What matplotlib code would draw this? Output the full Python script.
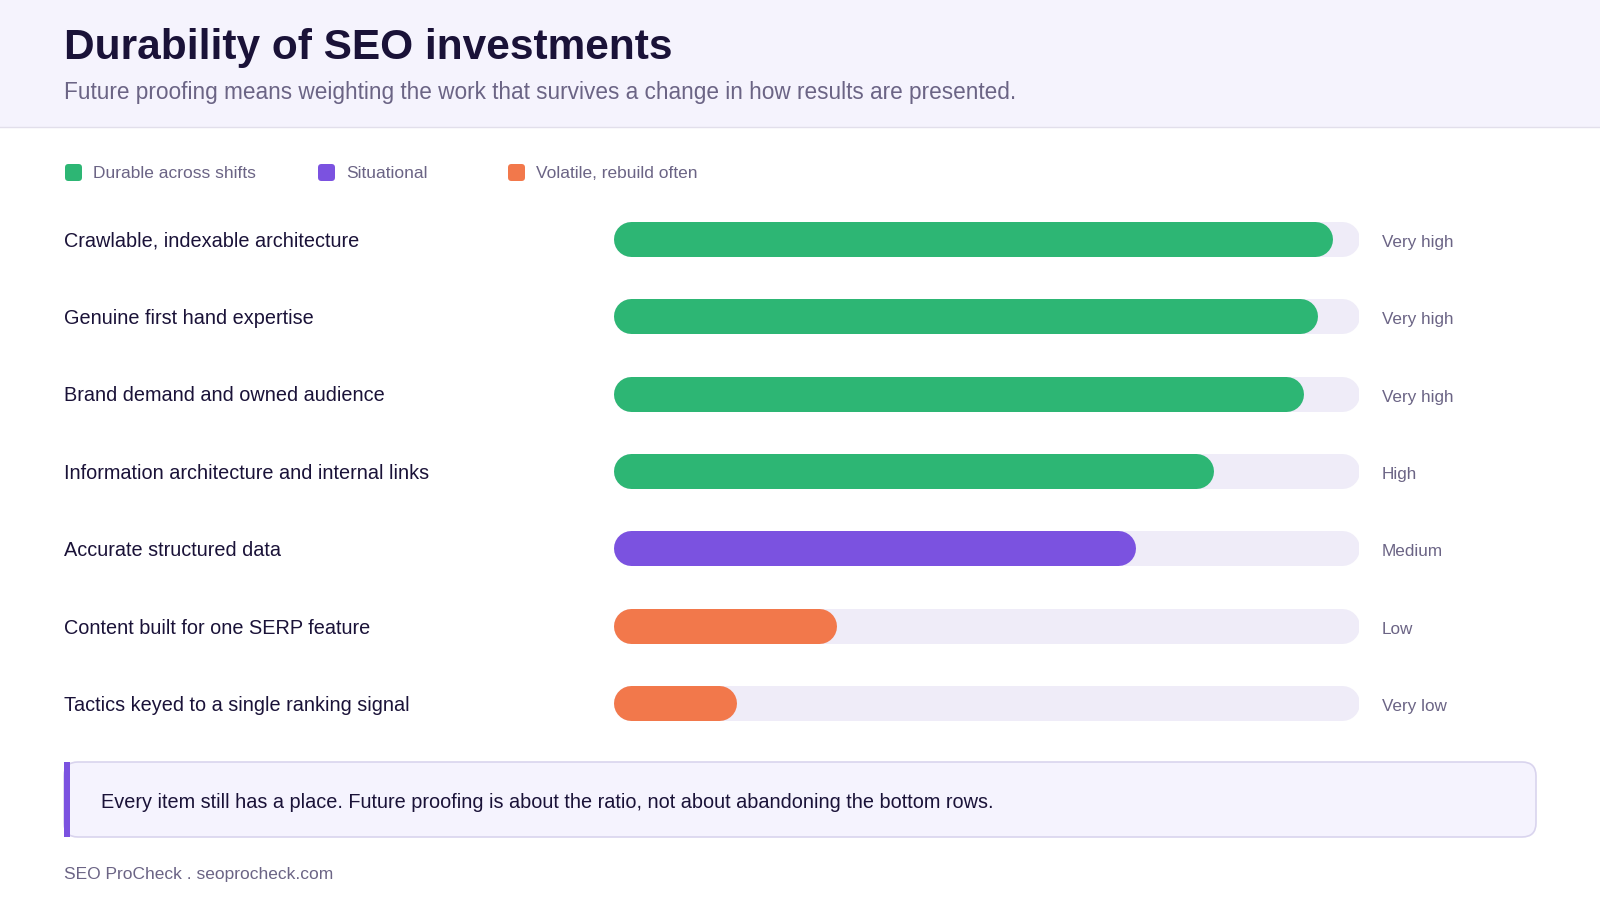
import matplotlib.pyplot as plt
from matplotlib.patches import Rectangle, FancyBboxPatch
from matplotlib import transforms

plt.rcParams['font.family'] = ['Liberation Sans', 'DejaVu Sans']

# datos
categorias = [
    "Crawlable, indexable architecture",
    "Genuine first hand expertise",
    "Brand demand and owned audience",
    "Information architecture and internal links",
    "Accurate structured data",
    "Content built for one SERP feature",
    "Tactics keyed to a single ranking signal",
]
valores = [96.5, 94.5, 92.5, 80.5, 70, 30, 16.5]
grupos = ["durable", "durable", "durable", "durable", "situational", "volatile", "volatile"]
etiquetas = ["Very high", "Very high", "Very high", "High", "Medium", "Low", "Very low"]

leyenda = ["Durable across shifts", "Situational", "Volatile, rebuild often"]
colores = {"durable": "#2DB674", "situational": "#7B52E0", "volatile": "#F2784B"}

titulo = "Durability of SEO investments"
subtitulo = "Future proofing means weighting the work that survives a change in how results are presented."
nota = "Every item still has a place. Future proofing is about the ratio, not about abandoning the bottom rows."
pie = "SEO ProCheck . seoprocheck.com"

W, H = 1600, 900
fig = plt.figure(figsize=(16, 9), dpi=100)
fig.patch.set_facecolor('white')

# eje de fondo en pixeles
bg = fig.add_axes([0, 0, 1, 1])
bg.set_xlim(0, W)
bg.set_ylim(H, 0)
bg.axis('off')

# cabecera
bg.add_patch(Rectangle((0, 0), W, 127, facecolor='#F5F3FD', edgecolor='none'))
bg.plot([0, W], [127, 127], color='#E2DFEB', lw=1)
bg.text(64, 48, titulo, fontsize=30.5, fontweight='bold', color='#1A1238', va='center')
bg.text(64, 93, subtitulo, fontsize=16.3, color='#6B6485', va='center')

# leyenda
ley_x = [64, 317, 507]
for x, nombre, key in zip(ley_x, leyenda, ["durable", "situational", "volatile"]):
    bg.add_patch(FancyBboxPatch((x + 1, 164), 17, 17, boxstyle="round,pad=0,rounding_size=3.5",
                                facecolor=colores[key], edgecolor='none'))
    bg.text(x + 29, 174, nombre, fontsize=12.5, color='#6B6485', va='center')

# caja de nota
bg.add_patch(FancyBboxPatch((64, 762), 1472, 75, boxstyle="round,pad=0,rounding_size=14",
                            facecolor='#F5F3FE', edgecolor='#D9D4EE', lw=1.2))
bg.add_patch(Rectangle((64, 762), 6, 75, facecolor='#7B52E0', edgecolor='none'))
bg.text(101, 803, nota, fontsize=14.33, color='#1A1238', va='center')

bg.text(64, 875, pie, fontsize=12.5, color='#6B6485', va='center')

# eje de barras
x0, x1 = 613, 1359
y_top, y_bot = 200.3, 741.7
ax = fig.add_axes([x0 / W, 1 - y_bot / H, (x1 - x0) / W, (y_bot - y_top) / H])
ax.set_xlim(0, 100)
ax.set_ylim(len(categorias) - 0.5, -0.5)
ax.axis('off')

alto_px = 35
lw_pt = alto_px * 72 / 100
r = (alto_px / 2) / (x1 - x0) * 100  # radio en unidades de datos

for i, (v, g) in enumerate(zip(valores, grupos)):
    ax.plot([r, 100 - r], [i, i], color='#EFECF8', lw=lw_pt, solid_capstyle='round')
    ax.plot([r, v - r], [i, i], color=colores[g], lw=lw_pt, solid_capstyle='round')

trans = transforms.blended_transform_factory(fig.transFigure, ax.transData)
for i, (cat, et) in enumerate(zip(categorias, etiquetas)):
    ax.text(64 / W, i + 0.03, cat, transform=trans, fontsize=14.3, color='#1A1238', va='center')
    ax.text(1382 / W, i + 0.045, et, transform=trans, fontsize=12.3, color='#6B6485', va='center')

fig.savefig('out.png', dpi=100, facecolor='white')
